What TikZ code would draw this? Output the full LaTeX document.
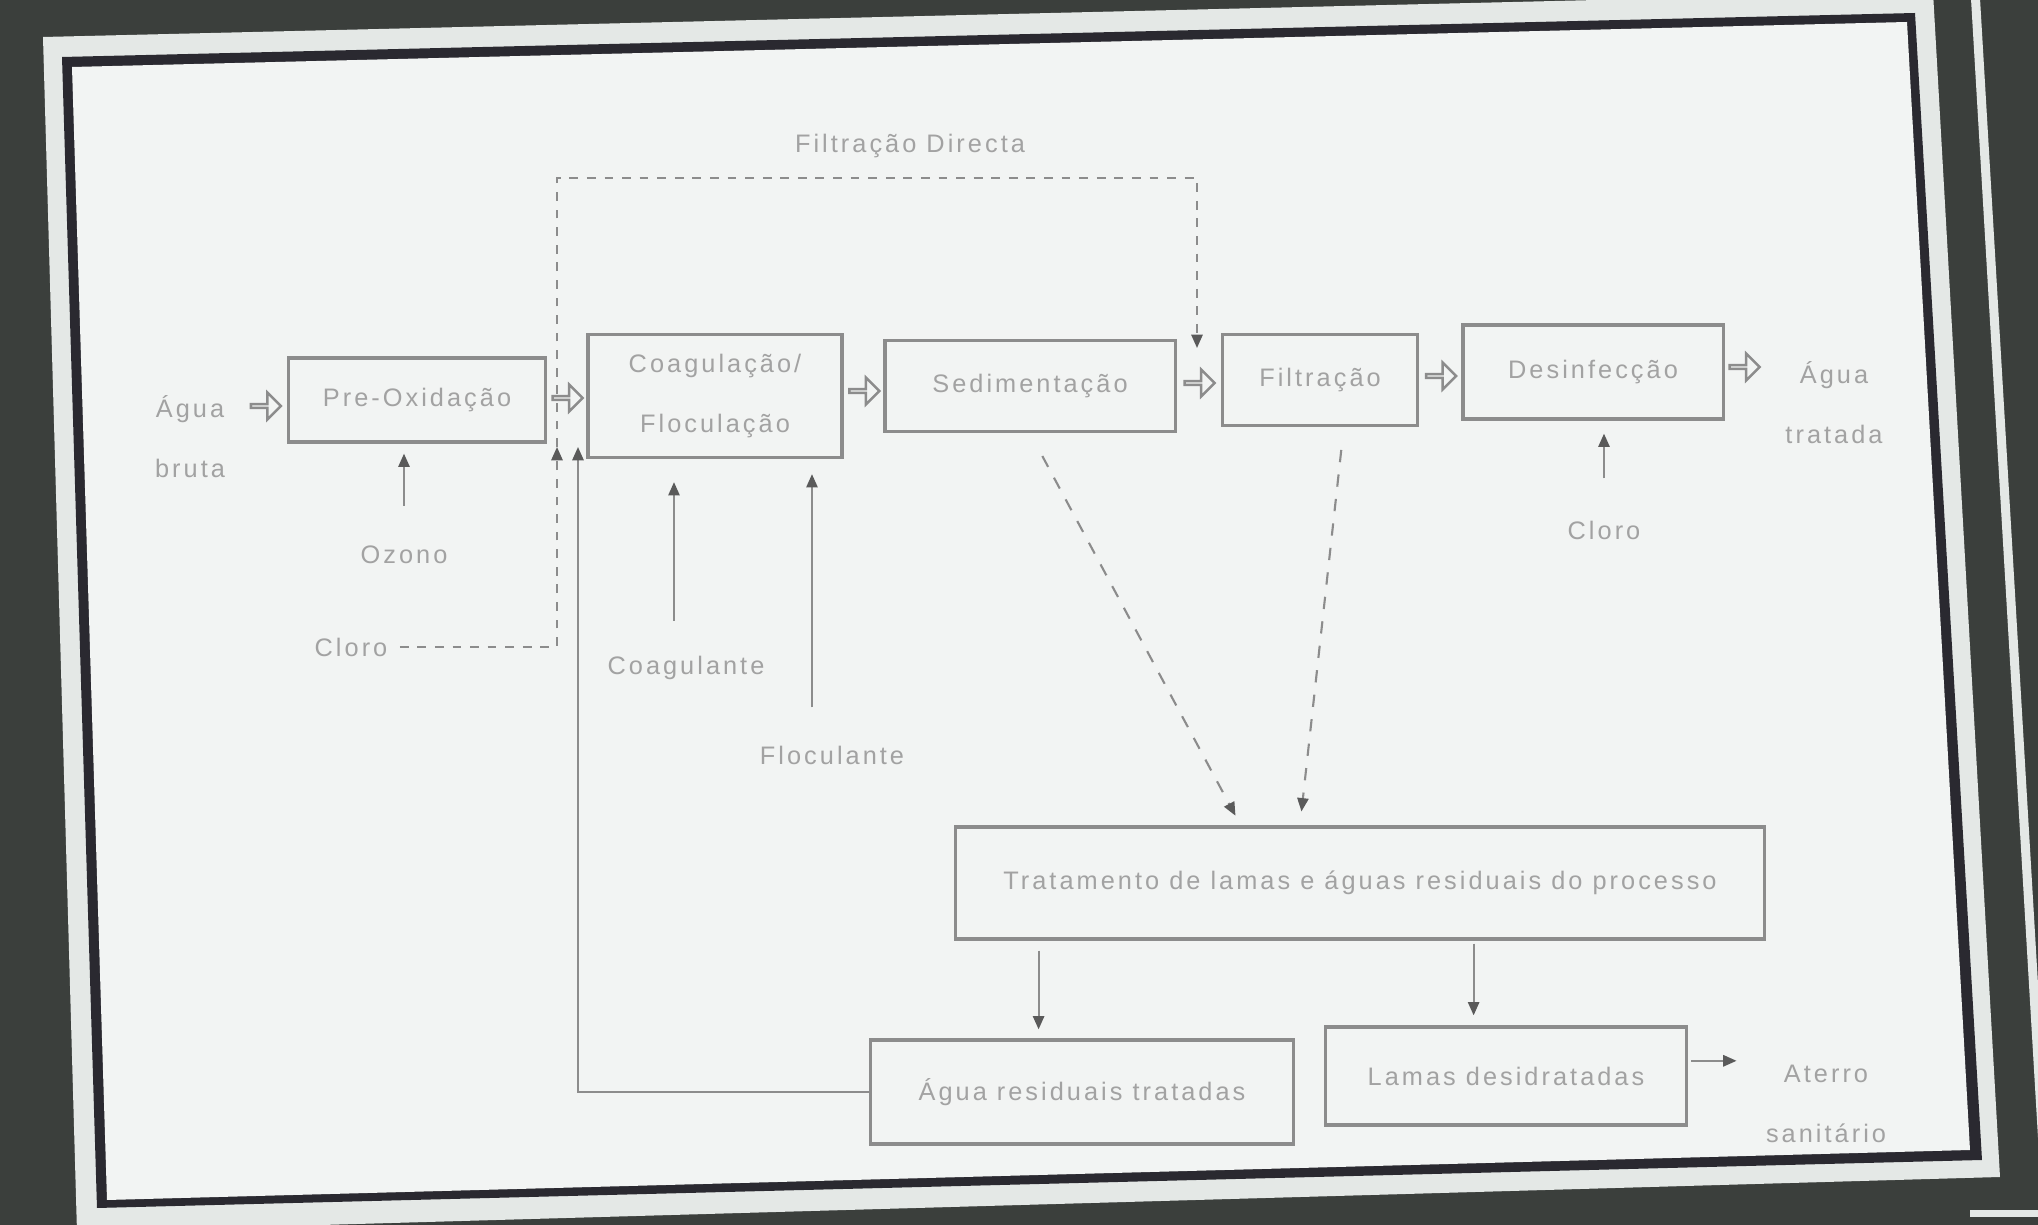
\documentclass[tikz,border=0pt]{standalone}
\usepackage{fontspec}
\setmainfont{Liberation Sans}[LetterSpace=12]
\usepackage{tikz}
\usetikzlibrary{arrows.meta, positioning, calc, shapes.arrows}
\definecolor{roomDark}{HTML}{3B3F3C}
\definecolor{frameDark}{HTML}{2A2930}
\definecolor{screenWhite}{HTML}{E4E8E6}
\definecolor{slideWhite}{HTML}{F2F4F3}
\definecolor{inkGray}{HTML}{8C8C8C}
\definecolor{textGray}{HTML}{A2A2A2}
\definecolor{tipGray}{HTML}{5A5A5A}

\begin{document}
\begin{tikzpicture}[x=0.01cm, y=-0.01cm, font=\fontsize{7.2}{17}\selectfont, text=textGray,
    >={Triangle[length=3.8pt, width=3.2pt, color=tipGray]},
    stage/.style={draw=inkGray, line width=0.9pt, inner sep=0pt, align=center},
    hollow/.style={single arrow, draw=inkGray, fill=slideWhite, line width=0.7pt, inner sep=0pt,
      minimum height=0.3cm, minimum width=0.27cm, single arrow head extend=0.075cm},
    feed/.style={draw=inkGray, line width=0.6pt, ->},
    bypass/.style={feed, dash pattern=on 2.5pt off 2.5pt}]
        \useasboundingbox (0,0) rectangle (2038,1225);
        \clip (0,0) rectangle (2038,1225);
        % Photo of the slide: room, screen edge, frame
        \fill[roomDark] (0,0) rectangle (2038,1225);
        \draw[screenWhite, line width=0.09cm] (1975,-10) -- (2045,1180);
        \fill[screenWhite] (1970,1210) rectangle (2038,1217);
        \fill[screenWhite] (43,37) -- (1933,-8) -- (2000,1177) -- (77,1232) -- cycle;
        \fill[frameDark] (62,57) -- (1915,13) -- (1982,1160) -- (97,1208) -- cycle;
        \fill[slideWhite] (72,67) -- (1907,22) -- (1970,1150) -- (107,1200) -- cycle;

        % Main line
        \node[stage, minimum width=2.57cm, minimum height=0.84cm] (preox) at (417,400) {Pre-Oxidação};
        \node[stage, minimum width=2.54cm, minimum height=1.23cm] (coag) at (715,396) {Coagulação/\\Floculação};
        \node[stage, minimum width=2.90cm, minimum height=0.91cm] (sed) at (1030,386) {Sedimentação};
        \node[stage, minimum width=1.95cm, minimum height=0.91cm] (filt) at (1320,380) {Filtração};
        \node[stage, minimum width=2.60cm, minimum height=0.94cm] (desinf) at (1593,372) {Desinfecção};

        % Sludge and wastewater
        \node[stage, minimum width=8.08cm, minimum height=1.12cm] (trat) at (1360,883) {Tratamento de lamas e águas residuais do processo};
        \node[stage, minimum width=4.23cm, minimum height=1.04cm] (aguares) at (1082,1092) {Água residuais tratadas};
        \node[stage, minimum width=3.61cm, minimum height=0.98cm] (lamas) at (1506,1076) {Lamas desidratadas};

        % Labels
        \node[align=center] (bruta) at (190,437) {Água\\bruta};
        \node[align=center] (tratada) at (1834,403) {Água\\tratada};
        \node (ozono) at (404,555) {Ozono};
        \node (cloroA) at (351,647) {Cloro};
        \node (coagulante) at (686,668) {Coagulante};
        \node (floculante) at (832,755) {Floculante};
        \node (cloroB) at (1604,530) {Cloro};
        \node (filtdir) at (910,146) {Filtração Directa};
        \node[align=center] (aterro) at (1826,1104) {Aterro\\sanitário};

        \coordinate (cloroIn) at (557,447);
        \coordinate (reuseIn) at (578,447);
        \coordinate (fdCorner) at (557,178);
        \coordinate (fdIn) at (1197,348);
        \coordinate (tratOutA) at ($(trat.south west)!0.104!(trat.south east)$);
        \coordinate (tratOutB) at ($(trat.south west)!0.64!(trat.south east)$);

        % Dosing and bypass
        \draw[feed, shorten <=0.28cm, shorten >=0.1cm] (ozono.north) -- (ozono.north |- preox.south);
        \draw[bypass] (cloroA.east) -| (cloroIn);
        \draw[bypass] (cloroIn) -- (fdCorner) -| (fdIn);
        \draw[feed] (aguares.west) -| (reuseIn);
        \draw[feed, shorten <=0.23cm, shorten >=0.23cm] ([xshift=-0.12cm]coagulante.north) -- ([xshift=-0.12cm]coagulante.north |- coag.south);
        \draw[feed, shorten <=0.26cm, shorten >=0.15cm] ([xshift=-0.2cm]floculante.north) -- ([xshift=-0.2cm]floculante.north |- coag.south);
        \draw[feed, shorten <=0.3cm, shorten >=0.13cm] (cloroB.north) -- (cloroB.north |- desinf.south);

        % To the sludge line
        \draw[bypass, dash pattern=on 3.5pt off 3.5pt, shorten <=0.26cm, shorten >=0.11cm] (sed.south) -- ($(trat.north west)!0.353!(trat.north east)$);
        \draw[bypass, dash pattern=on 3.5pt off 3.5pt, shorten <=0.23cm, shorten >=0.14cm] ($(filt.south west)!0.62!(filt.south east)$) -- ($(trat.north west)!0.426!(trat.north east)$);
        \draw[feed, shorten <=0.1cm, shorten >=0.09cm] (tratOutA) -- (tratOutA |- aguares.north);
        \draw[feed, shorten <=0.03cm, shorten >=0.1cm] (tratOutB) -- (tratOutB |- lamas.north);
        \draw[feed, shorten <=0.03cm, shorten >=0.17cm] ($(lamas.north east)!0.35!(lamas.south east)$) coordinate (lamasOut) -- (lamasOut -| aterro.west);

        % Flow arrows
        \node[hollow] (flowIn) at (265,406) {};
        \node[hollow] (flowA) at ($(preox.east)!0.5!(coag.west)$) {};
        \node[hollow] (flowB) at ($(coag.east)!0.5!(sed.west)$) {};
        \node[hollow] (flowC) at ($(sed.east)!0.5!(filt.west)$) {};
        \node[hollow] (flowD) at ($(filt.east)!0.5!(desinf.west)$) {};
        \node[hollow] (flowOut) at ($(desinf.east)+(19,-5)$) {};
    \end{tikzpicture}
\end{document}
